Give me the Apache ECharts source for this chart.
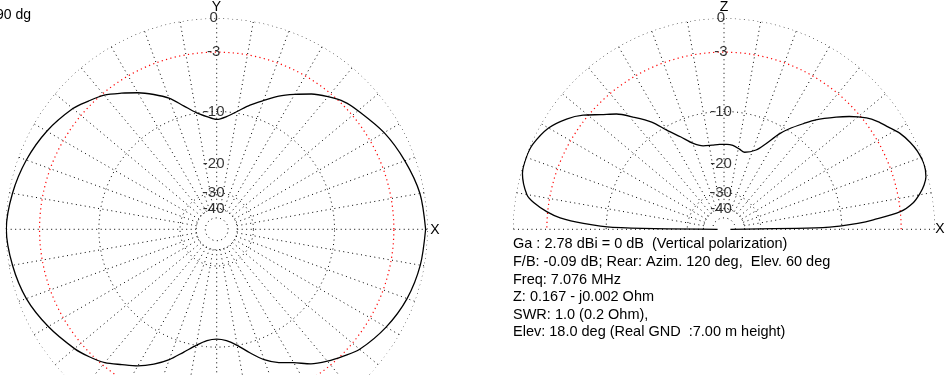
<!DOCTYPE html>
<html>
<head>
<meta charset="utf-8">
<script src="https://cdn.jsdelivr.net/npm/echarts@6/dist/echarts.min.js"></script>
<style>
html,body{margin:0;padding:0;background:#fff;}
#c{width:952px;height:375px;}
</style>
</head>
<body>
<div id="c"></div>
<script>
// ---- data (dB relative to max, angle in degrees counter-clockwise from +X) ----
const azAngles = [0,10,20,30,40,45,50,55,60,65,70,75,80,85,90,95,100,105,110,115,120,125,130,135,140,150,160,170,180,190,200,210,220,225,230,235,240,245,250,255,260,265,270,275,280,285,290,295,300,305,310,315,320,330,340,350,360];
const azDb     = [-0.17,-0.38,-0.9,-1.5,-2.3,-2.7,-3.4,-4.2,-5.2,-6.2,-7.4,-8.5,-9.7,-10.7,-11.2,-10.7,-9.9,-8.6,-7.1,-6.0,-5.0,-4.1,-3.2,-2.6,-2.0,-1.25,-0.7,-0.3,-0.05,-0.3,-0.7,-1.4,-2.2,-2.7,-3.3,-4.2,-5.0,-6.0,-7.2,-8.7,-10.0,-10.9,-11.2,-10.9,-10.0,-8.6,-7.2,-6.2,-5.4,-4.3,-3.5,-2.8,-2.1,-1.3,-0.7,-0.35,-0.17];

const elAngles = [0,1,1.6,2.5,3.6,5.7,8,10.4,12.5,14.6,18,22,25,28.6,32,35,38,42,45,50,53,57,60,64,68,75,79,84,88,93,98,104,110,115,120,124,129,133,137,141,145,150,156,160,164.5,170,172,174.3,176,177.6,179,180];
const elDb     = [-60,-13,-10.3,-7.8,-5.9,-3.0,-1.7,-0.98,-0.5,-0.19,-0.05,-0.2,-0.45,-0.88,-1.5,-2.0,-2.65,-3.85,-4.9,-6.7,-8.0,-9.7,-11.2,-13.7,-15.5,-16.7,-16.3,-15.75,-15.6,-15.6,-15.6,-15.4,-14.3,-12.5,-10.5,-8.4,-6.5,-5.0,-3.9,-2.6,-1.6,-0.7,-0.15,-0.05,-0.15,-0.9,-1.6,-2.9,-4.3,-6.95,-11,-60];

const ringDb = [0, -3, -10, -30, -40, -50];
const labelDb = [0, -3, -10, -20, -30, -40];
const labelText = ['0', '-3', '-10', '-20', '-30', '-40'];
const spokeStep = 10;
const spokeInnerDb = -40;

const infoLines = [
  'Ga : 2.78 dBi = 0 dB  (Vertical polarization)',
  'F/B: -0.09 dB; Rear: Azim. 120 deg,  Elev. 60 deg',
  'Freq: 7.076 MHz',
  'Z: 0.167 - j0.002 Ohm',
  'SWR: 1.0 (0.2 Ohm),',
  'Elev: 18.0 deg (Real GND  :7.00 m height)'
];

// ARRL log scale: 0.89 per 2 dB
const toR = db => Math.pow(0.89, -db / 2);
const dots = { type: [1, 3.5], width: 1 };

const series = [];
function ring(polar, db, maxAng) {
  const d = [];
  for (let a = 0; a <= maxAng; a += 1) d.push([toR(db), a]);
  const red = db === -3;
  series.push({
    type: 'line', coordinateSystem: 'polar', polarIndex: polar,
    data: d, symbol: 'none', silent: true, animation: false,
    lineStyle: red ? { color: '#ff0000', type: [1.2, 3.3], width: 1.2 } : Object.assign({ color: '#000' }, dots),
    z: 1
  });
}
function spoke(polar, ang) {
  series.push({
    type: 'line', coordinateSystem: 'polar', polarIndex: polar,
    data: [[toR(spokeInnerDb), ang], [1, ang]], symbol: 'none', silent: true, animation: false,
    lineStyle: Object.assign({ color: '#000' }, dots), z: 1
  });
}
ringDb.forEach(db => { ring(0, db, 360); ring(1, db, 180); });
for (let a = 0; a < 360; a += spokeStep) spoke(0, a);
for (let a = 0; a <= 180; a += spokeStep) spoke(1, a);

series.push({
  type: 'line', coordinateSystem: 'polar', polarIndex: 0,
  data: azAngles.map((a, i) => [toR(azDb[i]), a]),
  symbol: 'none', smooth: 0.3, silent: true, animation: false,
  lineStyle: { color: '#000', width: 1.3 }, z: 5
});
series.push({
  type: 'line', coordinateSystem: 'polar', polarIndex: 1,
  data: elAngles.map((a, i) => [toR(elDb[i]), a]),
  symbol: 'none', smooth: 0.3, silent: true, animation: false,
  lineStyle: { color: '#000', width: 1.3 }, z: 5
});
[0, 1].forEach(p => {
  series.push({
    type: 'scatter', coordinateSystem: 'polar', polarIndex: p,
    data: labelDb.map((db, i) => ({ value: [toR(db), 90], name: labelText[i] })),
    symbolSize: 0, silent: true, animation: false, z: 6,
    label: {
      show: true, position: 'inside', formatter: '{b}', offset: [-3, 0],
      color: '#000', fontFamily: 'Liberation Sans', fontSize: 15
    }
  });
});

const txt = (x, y, text, size, align) => ({
  type: 'text', x: x, y: y, silent: true,
  style: { text: text, fill: '#000', font: size + 'px "Liberation Sans"', textAlign: align || 'left', textVerticalAlign: 'middle' }
});
const graphics = [
  txt(-4, 15, '90 dg', 14),
  txt(216.5, 7, 'Y', 14, 'center'),
  txt(435, 230, 'X', 14, 'center'),
  txt(724, 7, 'Z', 14, 'center'),
  txt(940, 229.5, 'X', 14, 'center')
];
infoLines.forEach((t, i) => graphics.push(txt(513, 244.3 + i * 17.6, t, 14.5)));

const chart = echarts.init(document.getElementById('c'), null, { renderer: 'canvas' });
chart.setOption({
  backgroundColor: '#fff',
  animation: false,
  polar: [
    { center: [216.7, 229.3], radius: 211 },
    { center: [724, 229.3], radius: 211 }
  ],
  angleAxis: [
    { polarIndex: 0, type: 'value', min: 0, max: 360, startAngle: 0, clockwise: false, show: false },
    { polarIndex: 1, type: 'value', min: 0, max: 360, startAngle: 0, clockwise: false, show: false }
  ],
  radiusAxis: [
    { polarIndex: 0, type: 'value', min: 0, max: 1, show: false },
    { polarIndex: 1, type: 'value', min: 0, max: 1, show: false }
  ],
  series: series,
  graphic: graphics
});
</script>
</body>
</html>
